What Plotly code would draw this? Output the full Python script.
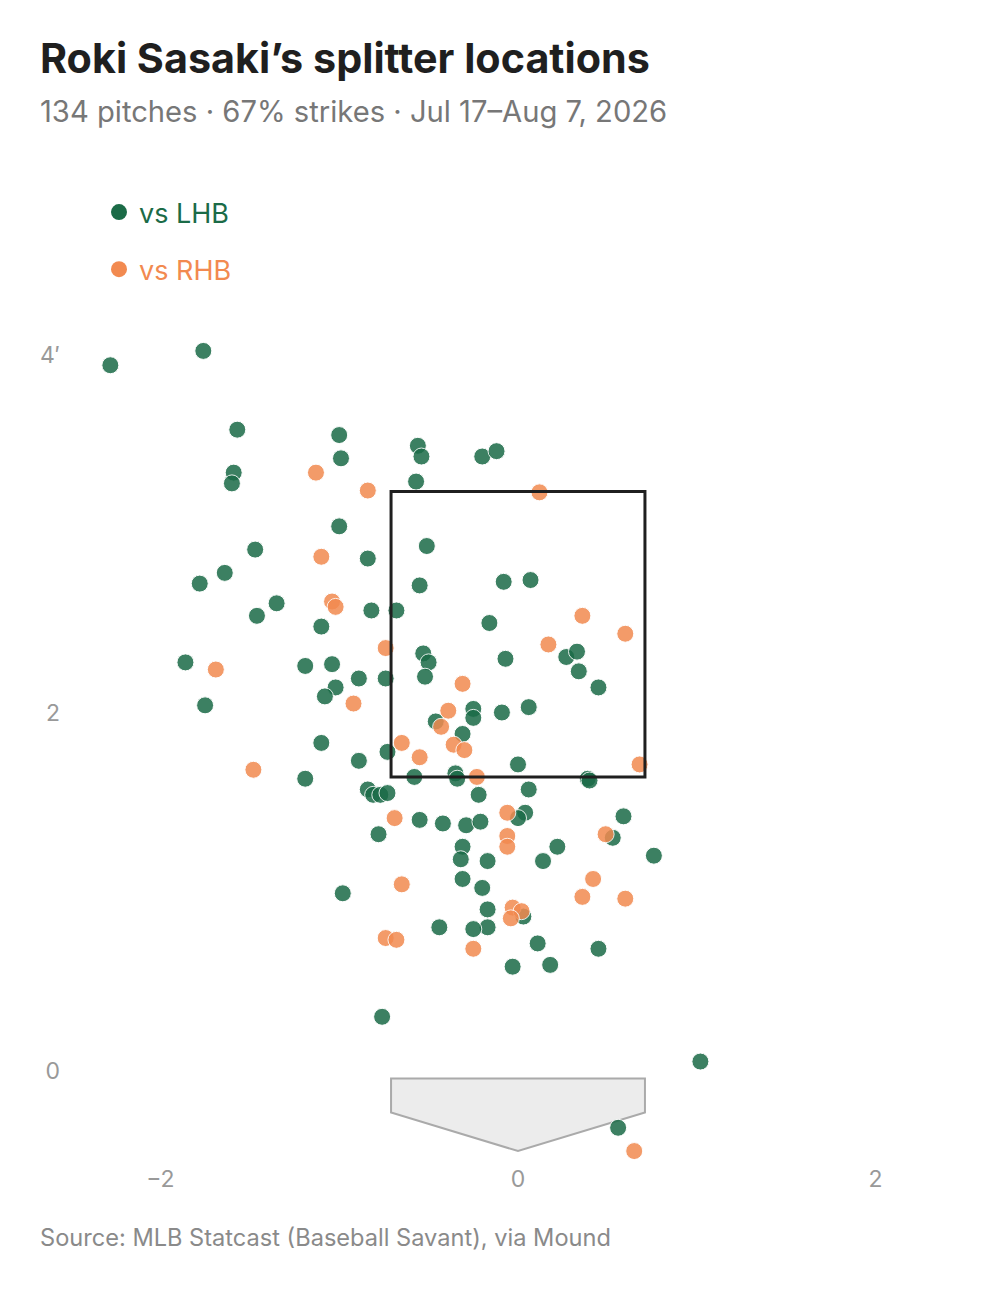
import plotly.graph_objects as go

# ---- data (feet, catcher's view) ----
lhb_x = [-2.28, -1.76, -1.57, -1.00, -0.99, -1.59, -1.60, -0.56, -0.54, -0.20,
         -0.12, -0.57, -1.00, -1.47, -0.84, -0.51, -1.64, -1.78, -0.55, -0.08,
         0.07, -1.35, -1.46, -0.82, -0.68, -1.10, -0.16, -1.86, -1.19, -1.04,
         -0.89, -0.74, -0.53, -0.50, -0.52, -0.07, 0.27, 0.33, 0.34, 0.45,
         -1.02, -1.08, -1.75, -0.46, -0.25, -0.25, -0.09, 0.06, -0.31, -1.10,
         -0.73, -0.89, 0.00, -0.58, -0.35, -0.34, 0.39, 0.40, -1.19, -0.84,
         -0.81, -0.77, -0.73, -0.22, 0.06, -0.55, -0.42, -0.29, -0.21, 0.04,
         0.00, -0.78, -0.31, -0.32, -0.17, 0.14, 0.22, 0.59, 0.53, 0.76,
         -0.31, -0.20, -0.98, -0.17, 0.03, -0.17, -0.25, -0.44, 0.11, 0.45,
         -0.03, 0.18, -0.76, 1.02, 0.56]
lhb_y = [3.94, 4.02, 3.58, 3.55, 3.42, 3.34, 3.28, 3.49, 3.43, 3.43,
         3.46, 3.29, 3.04, 2.91, 2.86, 2.93, 2.78, 2.72, 2.71, 2.73,
         2.74, 2.61, 2.54, 2.57, 2.57, 2.48, 2.50, 2.28, 2.26, 2.27,
         2.19, 2.19, 2.33, 2.28, 2.20, 2.30, 2.31, 2.34, 2.23, 2.14,
         2.14, 2.09, 2.04, 1.95, 2.02, 1.97, 2.00, 2.03, 1.88, 1.83,
         1.78, 1.73, 1.71, 1.64, 1.66, 1.63, 1.63, 1.62, 1.63, 1.57,
         1.54, 1.54, 1.55, 1.54, 1.57, 1.40, 1.38, 1.37, 1.39, 1.44,
         1.41, 1.32, 1.25, 1.18, 1.17, 1.17, 1.25, 1.42, 1.30, 1.20,
         1.07, 1.02, 0.99, 0.90, 0.86, 0.80, 0.79, 0.80, 0.71, 0.68,
         0.58, 0.59, 0.30, 0.05, -0.32]

rhb_x = [-1.13, -0.84, 0.12, -1.10, -1.04, -1.02, 0.36, 0.60, 0.17, -0.74,
         -1.69, -0.31, -0.92, -0.39, -0.43, -0.65, -0.36, -0.30, -0.55, -1.48,
         -0.23, 0.68, -0.06, -0.69, -0.06, -0.06, 0.49, 0.42, 0.36, 0.60,
         -0.65, -0.03, 0.02, -0.04, -0.74, -0.68, -0.25, 0.65]
rhb_y = [3.34, 3.24, 3.23, 2.87, 2.62, 2.59, 2.54, 2.44, 2.38, 2.36,
         2.24, 2.16, 2.05, 2.01, 1.92, 1.83, 1.82, 1.79, 1.75, 1.68,
         1.64, 1.71, 1.44, 1.41, 1.31, 1.25, 1.32, 1.07, 0.97, 0.96,
         1.04, 0.91, 0.89, 0.85, 0.74, 0.73, 0.68, -0.45]

series_names = ["vs LHB", "vs RHB"]
series_colors = ["#1b6b47", "#f28a50"]

x_ticks = [-2, 0, 2]
x_ticktext = ["\u22122", "0", "2"]
y_ticks = [0, 2, 4]
y_ticktext = ["0", "2", "4\u2032"]

zone_x = [-0.71, 0.71]
zone_y = [1.64, 3.235]
plate_x = [-0.71, 0.71, 0.71, 0.0, -0.71]
plate_y = [-0.045, -0.045, -0.235, -0.45, -0.235]

title = "Roki Sasaki\u2019s splitter locations"
subtitle = "134 pitches \u00b7 67% strikes \u00b7 Jul 17\u2013Aug 7, 2026"
source = "Source: MLB Statcast (Baseball Savant), via Mound"

# ---- layout geometry (page body adds an 8px offset) ----
OFF = 8
W, H = 1005, 1289
ML, MR, MT, MB = 71 - OFF, 40 + OFF, 265 - OFF, 129 + OFF
PW, PH = W - ML - MR, H - MT - MB

def px_to_paper_x(px):
    return (px - OFF - ML) / PW

def py_to_paper_y(py):
    return (H - MB - (py - OFF)) / PH

FONT = "Inter, 'Noto Sans', sans-serif"

fig = go.Figure()

for xs, ys, name, col in [(lhb_x, lhb_y, series_names[0], series_colors[0]),
                          (rhb_x, rhb_y, series_names[1], series_colors[1])]:
    fig.add_trace(go.Scatter(
        x=xs, y=ys, mode="markers", showlegend=False,
        marker=dict(size=17, color=col, opacity=0.85,
                    line=dict(width=1, color="white")),
        hoverinfo="skip"))

# legend entries (opaque swatches)
for i, (name, col) in enumerate(zip(series_names, series_colors)):
    fig.add_trace(go.Scatter(
        x=[None], y=[None], mode="markers",
        name=f"<span style='color:{col}'>{name}</span>",
        legendgroup=f"g{i}",
        marker=dict(size=20, color=col)))

shapes = [
    dict(type="path",
         path="M " + " L ".join(f"{x},{y}" for x, y in zip(plate_x, plate_y)) + " Z",
         xref="x", yref="y", fillcolor="#ececec",
         line=dict(color="#aaaaaa", width=2), layer="below"),
    dict(type="rect", xref="x", yref="y",
         x0=zone_x[0], x1=zone_x[1], y0=zone_y[0], y1=zone_y[1],
         line=dict(color="#1f1f1f", width=3), fillcolor="rgba(0,0,0,0)",
         layer="above"),
]

annotations = [
    dict(text=f"<b>{title}</b>", x=px_to_paper_x(38), y=py_to_paper_y(58),
         xref="paper", yref="paper", xanchor="left", yanchor="middle",
         showarrow=False, font=dict(family=FONT, size=41.3, color="#1f1f1f")),
    dict(text=subtitle, x=px_to_paper_x(38), y=py_to_paper_y(112),
         xref="paper", yref="paper", xanchor="left", yanchor="middle",
         showarrow=False, font=dict(family=FONT, size=29.2, color="#777777")),
    dict(text=source, x=px_to_paper_x(38), y=py_to_paper_y(1237),
         xref="paper", yref="paper", xanchor="left", yanchor="middle",
         showarrow=False, font=dict(family=FONT, size=23.6, color="#8a8a8a")),
]

fig.update_layout(
    width=W, height=H,
    margin=dict(l=ML, r=MR, t=MT, b=MB),
    paper_bgcolor="white", plot_bgcolor="white",
    font=dict(family=FONT, color="#999999"),
    shapes=shapes, annotations=annotations,
    showlegend=True,
    legend=dict(x=px_to_paper_x(99), y=py_to_paper_y(188),
                xanchor="left", yanchor="top",
                font=dict(family=FONT, size=27),
                tracegroupgap=19, bgcolor="rgba(0,0,0,0)"),
    xaxis=dict(range=[-2.5, 2.5], tickvals=x_ticks, ticktext=x_ticktext,
               showgrid=False, zeroline=False, showline=False, ticks="",
               ticklabelstandoff=3,
               tickfont=dict(family=FONT, size=23, color="#999999")),
    yaxis=dict(range=[-0.5, 4.5], tickvals=y_ticks, ticktext=y_ticktext,
               showgrid=False, zeroline=False, showline=False, ticks="",
               ticklabelstandoff=10,
               tickfont=dict(family=FONT, size=23, color="#999999")),
)

fig.write_html("out.html")
